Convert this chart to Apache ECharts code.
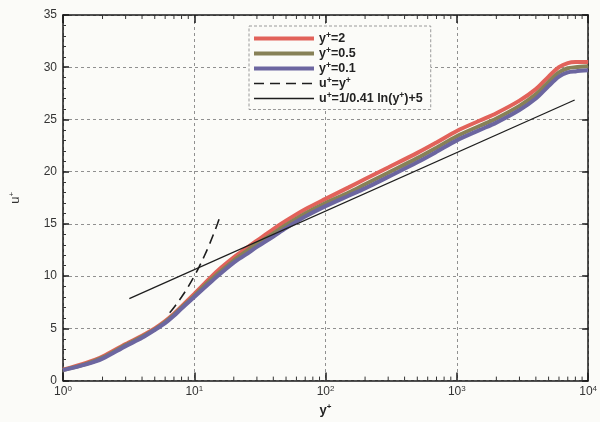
<!DOCTYPE html>
<html>
<head>
<meta charset="utf-8">
<script src="https://cdn.jsdelivr.net/npm/echarts@6/dist/echarts.min.js"></script>
<style>
  html, body { margin: 0; padding: 0; background: #fbfbf8; }
  #chart { width: 600px; height: 422px; }
</style>
</head>
<body>
<div id="chart"></div>
<script>
// Mean velocity profiles u+ against wall distance y+ (log scale)
const yPlus = [1, 1.5, 2, 3, 4, 5, 6, 7, 8, 10, 12, 15, 20, 25, 30, 40, 50, 70, 100,
  150, 200, 300, 500, 700, 1000, 1500, 2000, 3000, 4000, 5000, 6000, 7000, 8000, 10000];
const uFirstCell2 = [1.05, 1.7, 2.3, 3.5, 4.3, 5.0, 5.7, 6.4, 7.1, 8.3, 9.3, 10.5, 11.8, 12.7, 13.4, 14.5, 15.3, 16.4, 17.4,
  18.5, 19.3, 20.4, 21.8, 22.8, 23.9, 24.9, 25.6, 26.8, 27.9, 29.1, 30.0, 30.4, 30.5, 30.5];
const uFirstCell05 = [1.0, 1.6, 2.2, 3.4, 4.2, 4.9, 5.6, 6.3, 7.0, 8.1, 9.1, 10.2, 11.5, 12.4, 13.1, 14.1, 14.9, 16.0, 17.0,
  18.0, 18.8, 19.9, 21.3, 22.3, 23.4, 24.4, 25.1, 26.3, 27.4, 28.6, 29.5, 29.9, 30.0, 30.1];
const uFirstCell01 = [1.0, 1.55, 2.1, 3.3, 4.1, 4.85, 5.5, 6.2, 6.9, 8.0, 8.9, 10.0, 11.3, 12.1, 12.8, 13.8, 14.6, 15.7, 16.7,
  17.7, 18.4, 19.5, 20.9, 21.9, 23.0, 24.0, 24.7, 25.9, 27.0, 28.2, 29.1, 29.5, 29.6, 29.7];

// Viscous sublayer reference u+ = y+
const sublayerY = [6.5, 7, 8, 9, 10, 11, 12, 13, 14, 15, 16];
const sublayerU = [6.5, 7, 8, 9, 10, 11, 12, 13, 14, 15, 16];

// Log-law reference line end points
const logLawY = [3.2, 7900];
const logLawU = [7.84, 26.86];

// Axis ticks
const xTickExponents = ['0', '1', '2', '3', '4'];
const yTickLabels = ['0', '5', '10', '15', '20', '25', '30', '35'];
const xMinorTicks = [2, 3, 4, 5, 6, 7, 8, 9, 20, 30, 40, 50, 60, 70, 80, 90,
  200, 300, 400, 500, 600, 700, 800, 900, 2000, 3000, 4000, 5000, 6000, 7000, 8000, 9000];

const seriesNames = ['y+=2', 'y+=0.5', 'y+=0.1', 'u+=y+', 'u+=1/0.41 ln(y+)+5'];
const legendRich = {
  'y+=2': 'y{s|+}=2',
  'y+=0.5': 'y{s|+}=0.5',
  'y+=0.1': 'y{s|+}=0.1',
  'u+=y+': 'u{s|+}=y{s|+}',
  'u+=1/0.41 ln(y+)+5': 'u{s|+}=1/0.41 ln(y{s|+})+5'
};

const FONT = '"Liberation Sans", Arial, Helvetica, sans-serif';
const pair = (xs, ys) => xs.map((x, i) => [x, ys[i]]);

const chart = echarts.init(document.getElementById('chart'), null, { renderer: 'canvas' });

const frameLine = { show: true, onZero: false, lineStyle: { color: '#1a1a1a', width: 1.5 } };
const gridLine = { show: true, lineStyle: { color: '#909090', width: 1, type: [3, 3] } };

chart.setOption({
  backgroundColor: '#fbfbf8',
  animation: false,
  grid: { left: 54, right: 8, top: 15, bottom: 31, containLabel: false },
  legend: {
    data: seriesNames,
    orient: 'vertical',
    left: 249,
    top: 26,
    padding: [5, 8, 4, 3],
    itemGap: 0.5,
    itemWidth: 60,
    itemHeight: 14,
    backgroundColor: '#fbfbf8',
    borderColor: '#9a9a9a',
    borderWidth: 1,
    borderType: [3, 2],
    borderRadius: 0,
    selectedMode: false,
    lineStyle: { width: 'inherit' },
    itemStyle: { opacity: 0 },
    formatter: name => legendRich[name],
    textStyle: {
      fontFamily: FONT, fontSize: 12.5, fontWeight: 'bold', color: '#222', lineHeight: 14,
      rich: { s: { fontFamily: FONT, fontSize: 8.5, fontWeight: 'bold', color: '#222', padding: [0, 0, 6, 0] } }
    }
  },
  xAxis: [{
    type: 'log',
    logBase: 10,
    min: 1,
    max: 10000,
    position: 'bottom',
    name: 'y{s|+}',
    nameLocation: 'middle',
    nameGap: 17,
    nameTextStyle: {
      fontFamily: FONT, fontSize: 13, fontWeight: 'bold', color: '#222',
      rich: { s: { fontFamily: FONT, fontSize: 8, fontWeight: 'bold', color: '#222', padding: [0, 0, 7, 0] } }
    },
    axisLine: frameLine,
    axisTick: { show: true, inside: true, length: 8, lineStyle: { color: '#1a1a1a', width: 1.5 } },
    splitLine: gridLine,
    axisLabel: {
      margin: 4,
      fontFamily: FONT, fontSize: 12, color: '#333',
      formatter: v => '10{s|' + xTickExponents[Math.round(Math.log10(v))] + '}',
      rich: { s: { fontFamily: FONT, fontSize: 8, color: '#333', padding: [0, 0, 7, 0] } }
    }
  }, {
    type: 'log',
    logBase: 10,
    min: 1,
    max: 10000,
    position: 'top',
    axisLine: frameLine,
    axisTick: { show: true, inside: true, length: 8, lineStyle: { color: '#1a1a1a', width: 1.5 } },
    axisLabel: { show: false },
    splitLine: { show: false }
  }],
  yAxis: [{
    type: 'value',
    min: 0,
    max: 35,
    interval: 5,
    position: 'left',
    name: 'u{s|+}',
    nameLocation: 'middle',
    nameGap: 40,
    nameTextStyle: {
      fontFamily: FONT, fontSize: 13, color: '#333',
      rich: { s: { fontFamily: FONT, fontSize: 8, color: '#333', padding: [0, 0, 7, 0] } }
    },
    axisLine: frameLine,
    axisTick: { show: true, inside: true, length: 6, lineStyle: { color: '#1a1a1a', width: 1.5 } },
    minorTick: { show: true, splitNumber: 5, length: 3, lineStyle: { color: '#333', width: 1 } },
    splitLine: gridLine,
    axisLabel: {
      margin: 6,
      fontFamily: FONT, fontSize: 12, color: '#333',
      formatter: v => yTickLabels[Math.round(v / 5)]
    }
  }, {
    type: 'value',
    min: 0,
    max: 35,
    interval: 5,
    position: 'right',
    axisLine: frameLine,
    axisTick: { show: true, inside: true, length: 6, lineStyle: { color: '#1a1a1a', width: 1.5 } },
    axisLabel: { show: false },
    splitLine: { show: false }
  }],
  series: [
    {
      name: seriesNames[0], type: 'line', data: pair(yPlus, uFirstCell2),
      symbol: 'none', smooth: 0.3, z: 3,
      lineStyle: { color: '#e2625a', width: 4 }, itemStyle: { color: '#e2625a' }
    },
    {
      name: seriesNames[1], type: 'line', data: pair(yPlus, uFirstCell05),
      symbol: 'none', smooth: 0.3, z: 3,
      lineStyle: { color: '#878157', width: 4 }, itemStyle: { color: '#878157' }
    },
    {
      name: seriesNames[2], type: 'line', data: pair(yPlus, uFirstCell01),
      symbol: 'none', smooth: 0.3, z: 3,
      lineStyle: { color: '#6c66a0', width: 4 }, itemStyle: { color: '#6c66a0' }
    },
    {
      name: seriesNames[3], type: 'line', data: pair(sublayerY, sublayerU),
      symbol: 'none', smooth: true, z: 4,
      lineStyle: { color: '#1e1e1e', width: 1.6, type: [10, 6] }, itemStyle: { color: '#1e1e1e' }
    },
    {
      name: seriesNames[4], type: 'line', data: pair(logLawY, logLawU),
      symbol: 'none', z: 4,
      lineStyle: { color: '#1e1e1e', width: 1.3 }, itemStyle: { color: '#1e1e1e' }
    },
    {
      // logarithmic minor ticks on the bottom and top frame
      type: 'custom',
      silent: true,
      z: 6,
      data: xMinorTicks.map(v => [v, 0]),
      encode: { x: 0, y: 1 },
      renderItem: function (params, api) {
        const cs = params.coordSys;
        const x = api.coord([api.value(0), 0])[0];
        const b = cs.y + cs.height;
        const st = { stroke: '#333', lineWidth: 1 };
        return {
          type: 'group',
          children: [
            { type: 'line', shape: { x1: x, y1: b, x2: x, y2: b - 4 }, style: st },
            { type: 'line', shape: { x1: x, y1: cs.y, x2: x, y2: cs.y + 4 }, style: st }
          ]
        };
      }
    }
  ]
});
</script>
</body>
</html>
